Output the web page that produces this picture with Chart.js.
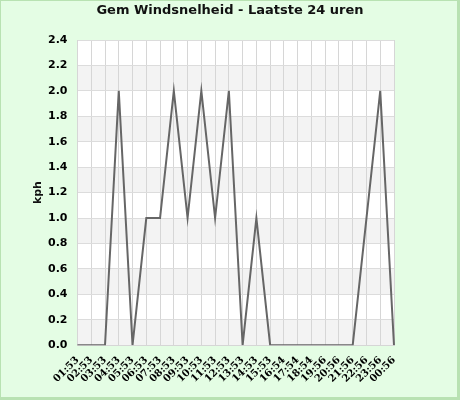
<!DOCTYPE html>
<html lang="nl">
<head>
    <meta charset="UTF-8">
    <title>Gem Windsnelheid - Laatste 24 uren</title>
    <style>
        body {
            margin: 0;
            background: #e4fde4;
        }
        #windChart {
            display: block;
        }
    </style>
    <script src="https://cdn.jsdelivr.net/npm/chart.js@4/dist/chart.umd.min.js"></script>
</head>
<body>
    <canvas id="windChart" width="460" height="400"></canvas>
    <script>
        // data
        const chartTitle = 'Gem Windsnelheid - Laatste 24 uren';
        const yTitle = 'kph';
        const hours = ['01:53', '02:53', '03:53', '04:53', '05:53', '06:53', '07:53', '08:53',
            '09:53', '10:53', '11:53', '12:53', '13:53', '14:53', '15:53', '16:54',
            '17:54', '18:54', '19:56', '20:56', '21:56', '22:56', '23:56', '00:56'];
        const windSpeed = [0, 0, 0, 2, 0, 1, 1, 2, 1, 2, 1, 2, 0, 1, 0, 0, 0, 0, 0, 0, 0, 1, 2, 0];

        // page background, border, grey/white bands behind the plot, title and axis title
        const backdrop = {
            id: 'backdrop',
            beforeDraw(chart) {
                const ctx = chart.ctx;
                const area = chart.chartArea;
                const y = chart.scales.y;
                ctx.save();
                ctx.fillStyle = '#e4fde4';
                ctx.fillRect(0, 0, chart.width, chart.height);
                ctx.fillStyle = '#b8e2b2';
                ctx.fillRect(0, 0, chart.width, 1);
                ctx.fillRect(0, 0, 1, chart.height);
                ctx.fillRect(chart.width - 3, 0, 3, chart.height);
                ctx.fillRect(0, chart.height - 3, chart.width, 3);
                ctx.fillStyle = '#ffffff';
                ctx.fillRect(area.left, area.top, area.right - area.left, area.bottom - area.top);
                ctx.fillStyle = '#f3f3f3';
                const ticks = y.ticks;
                for (let i = 1; i < ticks.length; i += 2) {
                    const top = y.getPixelForValue(ticks[i].value);
                    const bottom = y.getPixelForValue(ticks[i - 1].value);
                    ctx.fillRect(area.left, top, area.right - area.left, bottom - top);
                }
                // title centred on the whole picture, not the plot
                ctx.fillStyle = '#111111';
                ctx.font = 'bold 13px "DejaVu Sans"';
                ctx.textAlign = 'center';
                ctx.textBaseline = 'middle';
                ctx.fillText(chartTitle, chart.width / 2, 11);
                // y axis title, rotated
                ctx.font = 'bold 11px "DejaVu Sans"';
                ctx.translate(38, (area.top + area.bottom) / 2);
                ctx.rotate(-Math.PI / 2);
                ctx.fillText(yTitle, 0, 0);
                ctx.restore();
            }
        };

        new Chart(document.getElementById('windChart'), {
            type: 'line',
            data: {
                labels: hours,
                datasets: [{
                    data: windSpeed,
                    borderColor: '#666666',
                    borderWidth: 2,
                    pointRadius: 0,
                    tension: 0,
                    fill: false
                }]
            },
            options: {
                responsive: false,
                animation: false,
                layout: { padding: { left: 38, right: 66, top: 40, bottom: 6 } },
                plugins: {
                    legend: { display: false },
                    tooltip: { enabled: false },
                    title: { display: false }
                },
                scales: {
                    x: {
                        grid: { color: '#d6d6d6', drawTicks: false },
                        border: { color: '#d6d6d6' },
                        ticks: {
                            color: '#000000',
                            maxRotation: 45,
                            minRotation: 45,
                            autoSkip: false,
                            padding: 9,
                            font: { family: 'DejaVu Serif', size: 10, weight: 'bold' }
                        }
                    },
                    y: {
                        min: 0,
                        max: 2.4,
                        grid: { color: '#dcdcdc', drawTicks: false },
                        border: { color: '#d6d6d6' },
                        ticks: {
                            stepSize: 0.2,
                            color: '#000000',
                            padding: 10,
                            font: { family: 'DejaVu Sans', size: 11, weight: 'bold' },
                            callback: v => v.toFixed(1)
                        }
                    }
                }
            },
            plugins: [backdrop]
        });
    </script>
</body>
</html>
